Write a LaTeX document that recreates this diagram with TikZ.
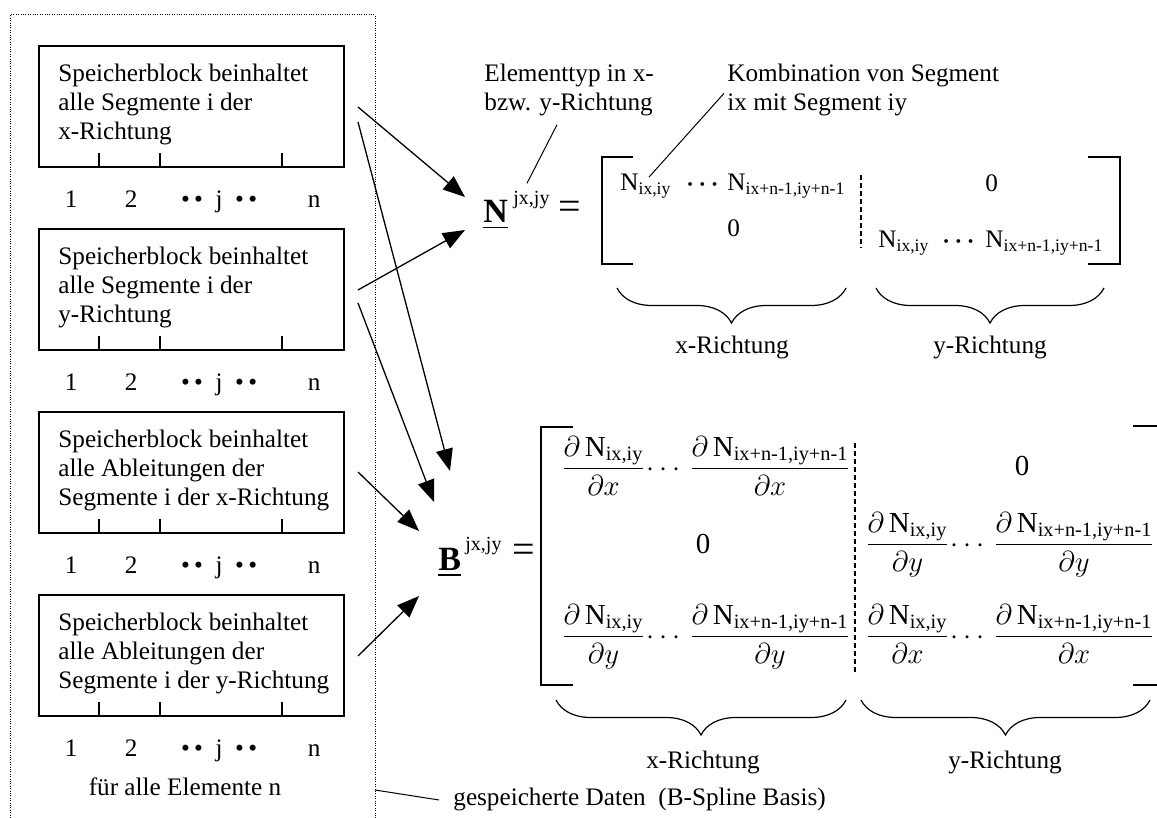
\documentclass[tikz,border=0pt]{standalone}
\usepackage{amsmath,amssymb}
\usepackage{fontspec}
\setmainfont{Liberation Serif}
\usetikzlibrary{arrows.meta,positioning,calc,decorations.pathreplacing}

\newcommand{\Nij}[1]{\text{N}_{\text{#1}}}
\newcommand{\dfr}[2]{$\displaystyle\frac{\partial\,\Nij{#1}}{\partial #2}$}
\newcommand{\jdots}{\textbullet\,\textbullet\enspace j\enspace\textbullet\,\textbullet}

\begin{document}
\begin{tikzpicture}[
    x=0.5pt, y=-0.5pt,
    font=\fontsize{12.6}{14.5}\selectfont,
    membox/.style={rectangle, draw, line width=0.85pt, minimum width=152.5pt, minimum height=60.5pt, inner sep=0pt},
    memtext/.style={anchor=north west, align=left, inner sep=0pt},
    txt/.style={inner sep=0pt},
    ntrm/.style={anchor=base west, inner sep=0pt},
    ndots/.style={anchor=base west, inner sep=0pt, font=\fontsize{13}{13}\selectfont\boldmath},
    bfrac/.style={anchor=base, inner sep=0pt, font=\fontsize{14.5}{16}\selectfont},
    arrow/.style={-{Triangle[length=11pt,width=8.5pt]}, line width=0.65pt},
    leader/.style={line width=0.5pt},
    bracket/.style={line width=0.85pt},
    sep/.style={line width=0.6pt, dash pattern=on 2.5pt off 1.5pt},
    frame/.style={line width=0.5pt, dash pattern=on 0.5pt off 0.7pt},
    ubrace/.style={decorate, decoration={brace, amplitude=17.5pt}, line width=0.6pt}
]
    \useasboundingbox (0,0) rectangle (1157,818);

    \draw[frame] (10,818) -- (10,15) -- (375,15) -- (375,818);

    \node[membox] (memA) at (191.5,106.5) {};
    \node[membox] (memB) at (191.5,289.5) {};
    \node[membox] (memC) at (191.5,472.5) {};
    \node[membox] (memD) at (191.5,655.5) {};
    \node[memtext] (memAtext) at (58,64) {Speicherblock beinhaltet\\alle Segmente i der\\x-Richtung};
    \node[memtext] (memBtext) at (58,247) {Speicherblock beinhaltet\\alle Segmente i der\\y-Richtung};
    \node[memtext] (memCtext) at (58,430) {Speicherblock beinhaltet\\alle Ableitungen der\\Segmente i der x-Richtung};
    \node[memtext] (memDtext) at (58,613) {Speicherblock beinhaltet\\alle Ableitungen der\\Segmente i der y-Richtung};

    \foreach \m in {memA,memB,memC,memD} {
        \foreach \tx in {61,122,244}
            \draw[bracket] ($(\m.south west)+(\tx,0)$) -- ++(0,-15);
        \node[txt, anchor=base] (\m-one) at ($(\m.south west)+(33,40)$) {1};
        \node[txt, anchor=base] (\m-two) at ($(\m.south west)+(93,40)$) {2};
        \node[txt, anchor=base] (\m-j) at ($(\m.south west)+(181,40)$) {\jdots};
        \node[txt, anchor=base] (\m-n) at ($(\m.south west)+(276,40)$) {n};
    }
    \node[txt, anchor=base] (allel) at (185,795) {für alle Elemente n};

    \node[ntrm] (stored) at (453,805) {gespeicherte Daten\ \ (B-Spline Basis)};
    \coordinate (frameR) at (375,790);
    \draw[leader] (frameR) -- ($(stored.west)+(-14,1)$);

    % N matrix
    \node[ntrm, font=\fontsize{17}{17}\selectfont] (Nsym) at (483,223) {\underline{\textbf{N}}};
    \node[ntrm, font=\fontsize{10}{10}\selectfont] (Nsup) at (513,205) {jx,jy};
    \node[txt, font=\fontsize{20}{20}\selectfont] (Neq) at (570,210) {=};
    \draw[bracket] (633,157) -| (602,264) -- (633,264);
    \draw[bracket] (1088,157) -| (1120,264) -- (1088,264);
    \node[ntrm] (n11) at (620,191) {$\Nij{ix,iy}$};
    \node[ndots] (n12) at (686,191) {$\cdots$};
    \node[ntrm] (n13) at (727,191) {$\Nij{ix+n-1,iy+n-1}$};
    \node[ntrm] (n14) at (985,192) {0};
    \node[ntrm] (n21) at (727,237) {0};
    \node[ntrm] (n22) at (878,248) {$\Nij{ix,iy}$};
    \node[ndots] (n23) at (942,248) {$\cdots$};
    \node[ntrm] (n24) at (985,248) {$\Nij{ix+n-1,iy+n-1}$};
    \draw[sep] (861,175) -- (861,248);

    \node[memtext] (elemtyp) at (484,64) {Elementtyp in x-\\bzw. y-Richtung};
    \node[memtext] (kombi) at (727,64) {Kombination von Segment\\ix mit Segment iy};
    \draw[leader] ($(elemtyp.south west)+(73,8)$) -- ($(Nsup.north)+(-4.5,-8)$);
    \draw[leader] ($(kombi.west)+(-3,3)$) -- ($(n11.north west)+(29,3)$);

    \draw[ubrace] (846,288) -- (617,288);
    \draw[ubrace] (1104,288) -- (876,288);
    \node[txt, anchor=base] (nxdir) at (732,354) {x-Richtung};
    \node[txt, anchor=base] (nydir) at (990,354) {y-Richtung};

    % B matrix
    \node[ntrm, font=\fontsize{17}{17}\selectfont] (Bsym) at (438,570) {\underline{\textbf{B}}};
    \node[ntrm, font=\fontsize{10}{10}\selectfont] (Bsup) at (465,550) {jx,jy};
    \node[txt, font=\fontsize{20}{20}\selectfont] (Beq) at (524,553) {=};
    \draw[bracket] (573,427) -| (541,685) -- (573,685);
    \draw[bracket] (1133,426) -- (1157,426);
    \draw[bracket] (1133,685) -- (1157,685);
    \node[bfrac] (b11) at (603.5,476) {\dfr{ix,iy}{x}};
    \node[bfrac] (b12) at (666,476) {$\cdots$};
    \node[bfrac] (b13) at (770,476) {\dfr{ix+n-1,iy+n-1}{x}};
    \node[bfrac] (b14) at (1022,475) {0};
    \node[bfrac] (b21) at (703,553) {0};
    \node[bfrac] (b22) at (907.5,552) {\dfr{ix,iy}{y}};
    \node[bfrac] (b23) at (970,552) {$\cdots$};
    \node[bfrac] (b24) at (1074,552) {\dfr{ix+n-1,iy+n-1}{y}};
    \node[bfrac] (b31) at (603.5,644) {\dfr{ix,iy}{y}};
    \node[bfrac] (b32) at (666,644) {$\cdots$};
    \node[bfrac] (b33) at (770,644) {\dfr{ix+n-1,iy+n-1}{y}};
    \node[bfrac] (b34) at (907.5,644) {\dfr{ix,iy}{x}};
    \node[bfrac] (b35) at (970,644) {$\cdots$};
    \node[bfrac] (b36) at (1074,644) {\dfr{ix+n-1,iy+n-1}{x}};
    \draw[sep] (855,443) -- (855,672);

    \draw[ubrace] (846,700) -- (556,700);
    \draw[ubrace] (1150,700) -- (861,700);
    \node[txt, anchor=base] (bxdir) at (703,768) {x-Richtung};
    \node[txt, anchor=base] (bydir) at (1005,768) {y-Richtung};

    % connectors
    \coordinate (outA1) at (358,107);
    \coordinate (outA2) at (358,122);
    \coordinate (outB1) at (358,290);
    \coordinate (outB2) at (358,303);
    \coordinate (outC) at (358,472);
    \coordinate (outD) at (358,656);
    \coordinate (inN1) at (465,197);
    \coordinate (inN2) at (465,230);
    \coordinate (inB1) at (450,471);
    \coordinate (inB2) at (434,502);
    \coordinate (inB3) at (419,531);
    \coordinate (inB4) at (419,596);
    \draw[arrow] (outA1) -- (inN1);
    \draw[arrow] (outB1) -- (inN2);
    \draw[arrow] (outA2) -- (inB1);
    \draw[arrow] (outB2) -- (inB2);
    \draw[arrow] (outC) -- (inB3);
    \draw[arrow] (outD) -- (inB4);
\end{tikzpicture}
\end{document}
